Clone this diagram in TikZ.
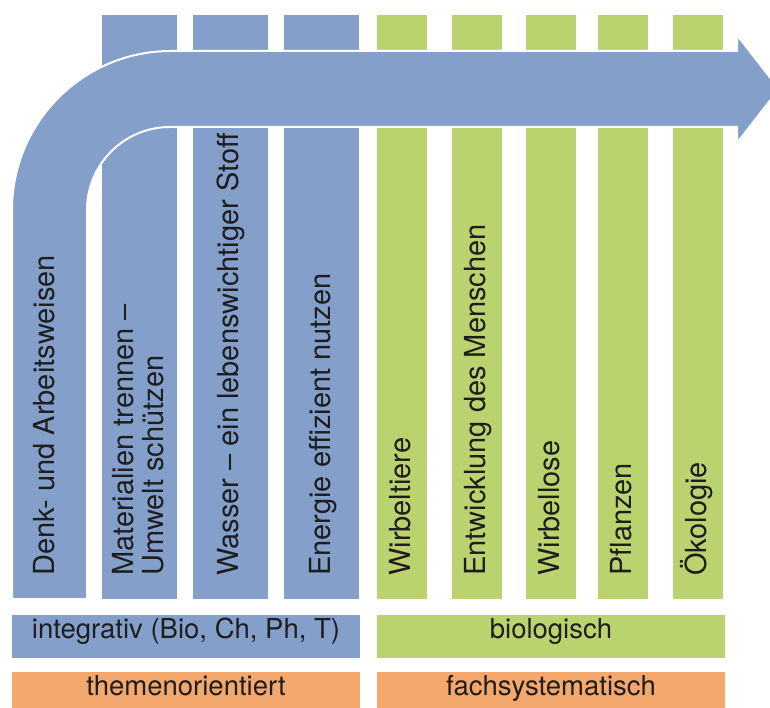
\documentclass[tikz,border=0pt]{standalone}
\usepackage{fontspec}
\setmainfont{TeX Gyre Heros}
\definecolor{planblue}{HTML}{839FCA}
\definecolor{plangreen}{HTML}{BBD36F}
\definecolor{planorange}{HTML}{F5A86D}
\definecolor{plantext}{HTML}{1E1E1E}
\begin{document}
\begin{tikzpicture}[x=1pt,y=-1pt,
  coltext/.style={rotate=90,anchor=base west,inner sep=0pt,text=plantext,font=\fontsize{29}{30}\selectfont},
  bar/.style={minimum height=43,inner sep=0pt,text=plantext,text height=0.7em,text depth=0.28em,font=\fontsize{27.5}{30}\selectfont}]
\useasboundingbox (0,0) rectangle (770,708);
\fill[planblue] (102,15) rectangle (177,599);
\fill[planblue] (193,15) rectangle (268,599);
\fill[planblue] (284,15) rectangle (359,599);
\foreach \x in {377,452,526,598,673}
  \fill[plangreen] (\x,15) rectangle ++(50,584);
\fill[planblue,draw=white,line width=2] (12,599) -- (12,210) arc[start angle=180,end angle=90,radius=159pt]
  -- (737,51) -- (737,35) -- (779,89) -- (737,143) -- (737,127) -- (170,127)
  arc[start angle=90,end angle=180,radius=83pt] -- (87,599) -- cycle;
\node (denk) [coltext] at (54,576) {Denk- und Arbeitsweisen};
\node (material) [coltext,align=left] at (163,576) {Materialien trennen –\\Umwelt schützen};
\node (wasser) [coltext] at (238,576) {Wasser – ein lebenswichtiger Stoff};
\node (energie) [coltext] at (330,576) {Energie effizient nutzen};
\foreach \x/\name/\txt in {377/wirbeltiere/Wirbeltiere,452/menschen/Entwicklung des Menschen,526/wirbellose/Wirbellose,598/pflanzen/Pflanzen,673/oekologie/Ökologie}
  \node (\name) [coltext] at (\x+33,576) {\txt};
\node (integrativ) [bar,fill=planblue,minimum width=348] at (186,636.5) {integrativ (Bio, Ch, Ph, T)};
\node (biologisch) [bar,fill=plangreen,minimum width=348] at (551,636.5) {biologisch};
\node (themen) [bar,fill=planorange,minimum width=348] at (186,693.5) {themenorientiert};
\node (fach) [bar,fill=planorange,minimum width=348] at (551,693.5) {fachsystematisch};
\end{tikzpicture}
\end{document}
